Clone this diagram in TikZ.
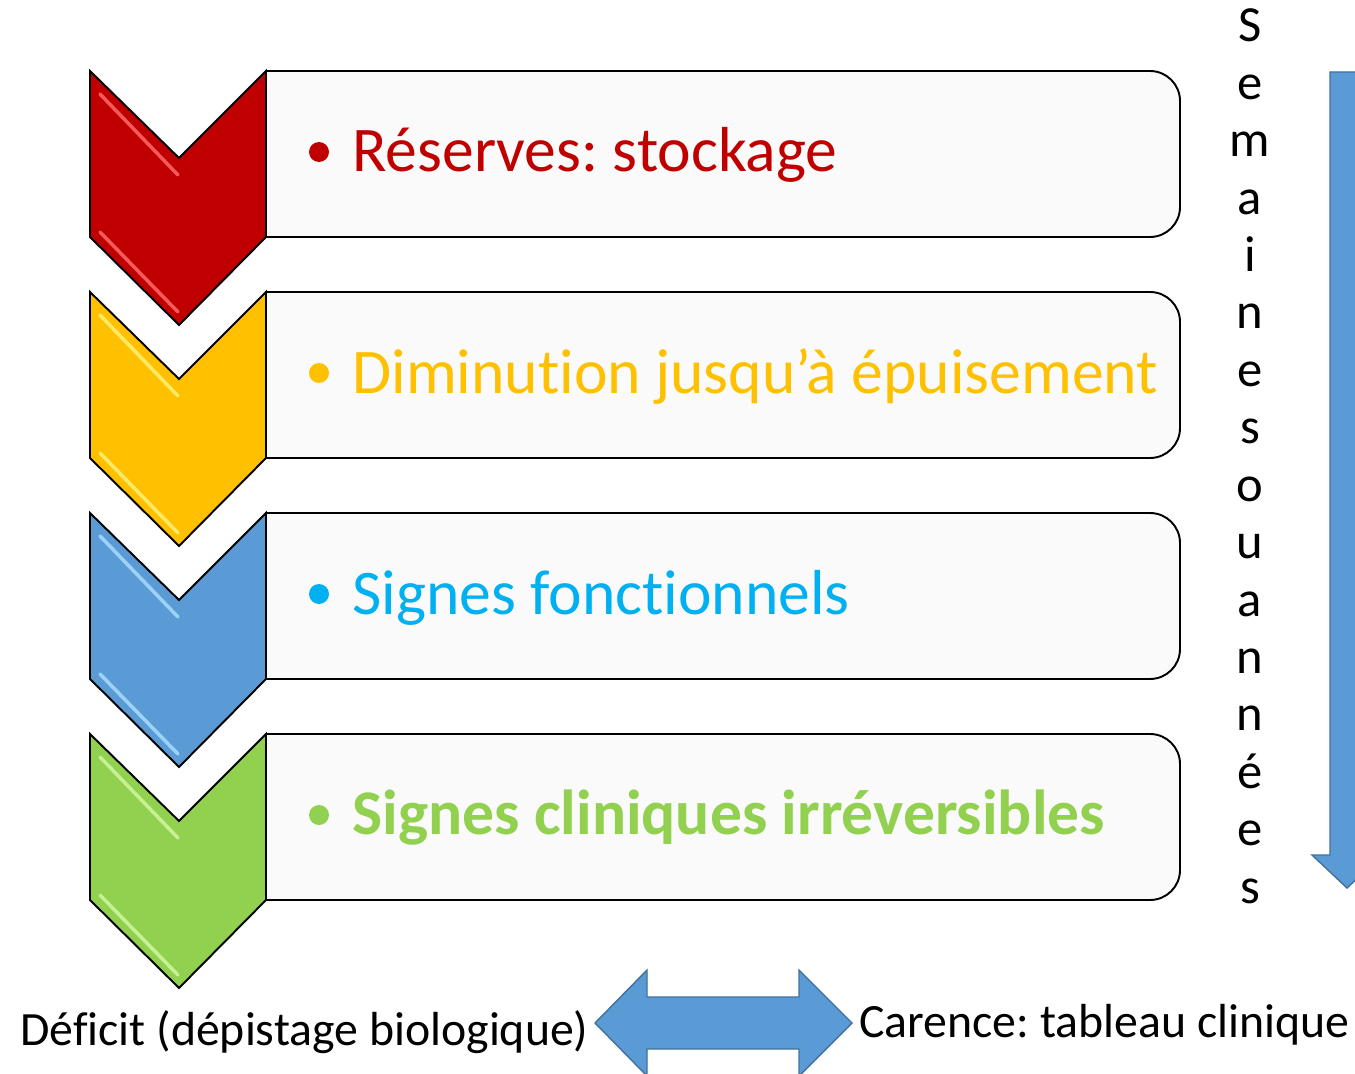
\documentclass[tikz,border=0pt]{standalone}
\usepackage{fontspec}
\setmainfont[Ligatures={NoCommon}]{Carlito}
\frenchspacing
\definecolor{cRed}{HTML}{C00000}
\definecolor{cYel}{HTML}{FFC000}
\definecolor{cBlu}{HTML}{5B9BD5}
\definecolor{cGrn}{HTML}{92D050}
\definecolor{hRed}{HTML}{FF6A6A}
\definecolor{hYel}{HTML}{FFF27A}
\definecolor{hBlu}{HTML}{A8DCFF}
\definecolor{hGrn}{HTML}{CFF7A0}
\definecolor{tRed}{HTML}{C00000}
\definecolor{tYel}{HTML}{FFC000}
\definecolor{tBlu}{HTML}{00B0F0}
\definecolor{tGrn}{HTML}{92D050}
\definecolor{boxfill}{HTML}{FAFAFA}
\definecolor{arrowblue}{HTML}{5B9BD5}
\definecolor{arrowedge}{HTML}{41719C}
\begin{document}
\begin{tikzpicture}[x=0.02cm,y=-0.02cm,
  chev/.style={draw=black,line width=1.1pt,line join=miter},
  boxshape/.style={draw=black,line width=1.1pt,fill=boxfill},
  blk/.style={fill=arrowblue,draw=arrowedge,line width=0.8pt,line join=miter},
  hl/.style={line width=2pt,line cap=round,opacity=0.85},
  maintext/.style={anchor=base west,inner sep=0pt,font=\fontsize{36.2pt}{40pt}\selectfont},
  bul/.style={circle,inner sep=0pt,minimum size=0.4cm},
  vlet/.style={anchor=base,inner sep=0pt,font=\fontsize{28.8pt}{32pt}\selectfont},
  bottext/.style={anchor=base west,inner sep=0pt,font=\fontsize{27.2pt}{30pt}\selectfont}]
\useasboundingbox (0,0) rectangle (1355,1074);
\clip (0,0) rectangle (1355,1074);
\fill[white] (0,0) rectangle (1355,1074);
% boxes
\foreach \i in {0,...,3}{
  \pgfmathsetmacro\t{71+221*\i}
  \draw[boxshape] (266,\t) -- (1150,\t) arc[start angle=90,end angle=0,radius=0.6cm]
     -- (1180,{\t+136}) arc[start angle=0,end angle=-90,radius=0.6cm] -- (266,{\t+166}) -- cycle;
}
% chevrons
\foreach \i/\c/\h in {0/cRed/hRed,1/cYel/hYel,2/cBlu/hBlu,3/cGrn/hGrn}{
  \pgfmathsetmacro\t{71+221*\i}
  \draw[chev,fill=\c] (90,\t) -- (179,{\t+87}) -- (266,\t) -- (266,{\t+166}) -- (179,{\t+254}) -- (90,{\t+166}) -- cycle;
  \draw[hl,\h] (100,{\t+23}) -- (178,{\t+104});
  \draw[hl,\h] (100,{\t+161}) -- (178,{\t+241});
}
% texts
\node[bul,fill=tRed] (b1) at (319,152) {};
\node[maintext,text=tRed] (t1) at (352,172) {Réserves: stockage};
\node[bul,fill=tYel] (b2) at (319,373) {};
\node[maintext,text=tYel] (t2) at (352,393) {Diminution jusqu’à épuisement};
\node[bul,fill=tBlu] (b3) at (319,594) {};
\node[maintext,text=tBlu] (t3) at (352,614) {Signes fonctionnels};
\node[bul,fill=tGrn] (b4) at (319,815) {};
\node[maintext,text=tGrn,font=\fontsize{36.2pt}{40pt}\selectfont\bfseries] (t4) at (352,834) {Signes cliniques irréversibles};
% vertical text
\foreach \l [count=\k from 0] in {S,e,m,a,i,n,e,s,o,u,a,n,n,é,e,s}{
  \node[vlet] (v\k) at (1250,{42+57.4*\k}) {\l};
}
% down arrow
\draw[blk] (1330,72) -- (1364,72) -- (1364,855) -- (1382,855) -- (1347,888) -- (1312,855) -- (1330,855) -- cycle;
% double arrow
\draw[blk] (595,1023) -- (647,970) -- (647,997) -- (799,997) -- (799,970) -- (852,1023) -- (799,1076) -- (799,1049) -- (647,1049) -- (647,1076) -- cycle;
% bottom texts
\node[bottext] (d) at (20,1045) {Déficit (dépistage biologique)};
\node[bottext] (c) at (859,1037) {Carence: tableau clinique};
\end{tikzpicture}
\end{document}
